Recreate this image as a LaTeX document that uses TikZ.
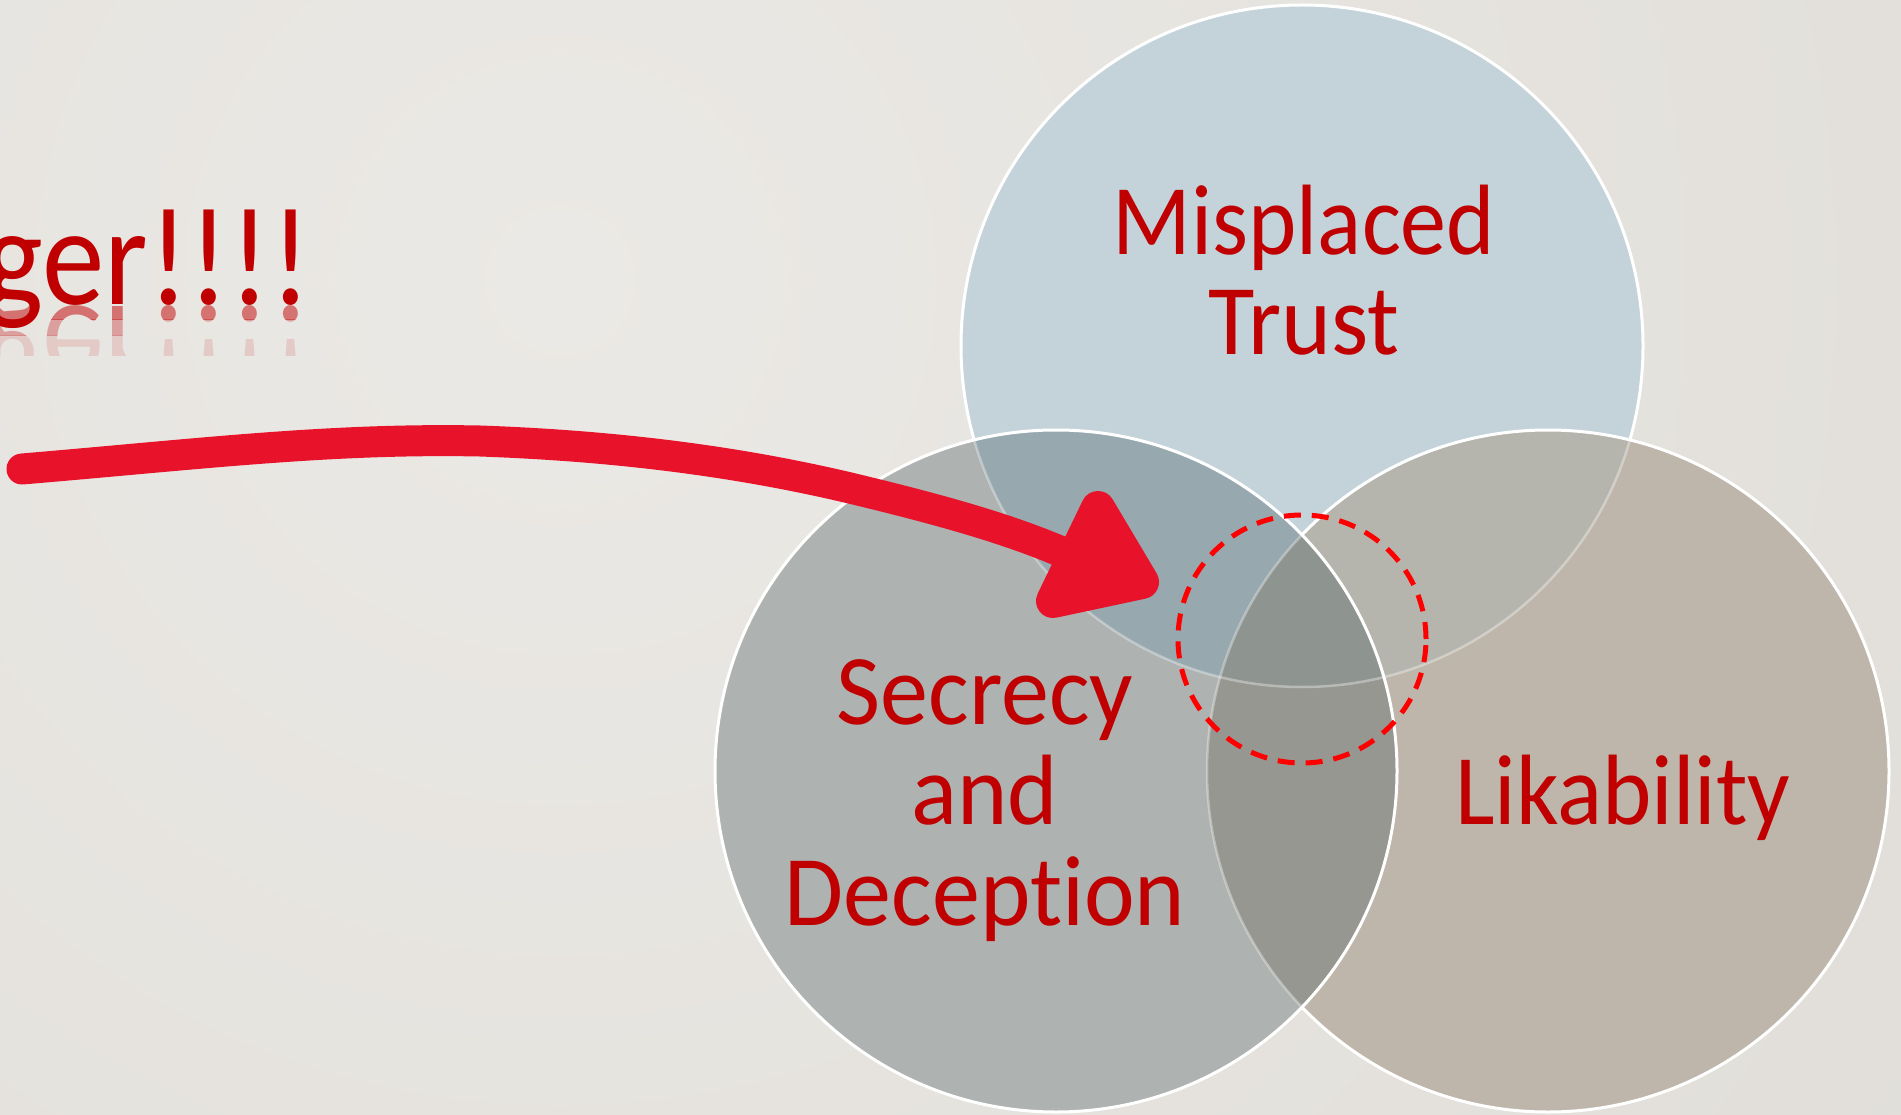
\documentclass[tikz,border=0pt]{standalone}
\usepackage{fontspec}
\usepackage{graphicx}
\setmainfont[Ligatures=NoCommon]{Carlito}
\definecolor{bgA}{HTML}{EBE9E5}
\definecolor{bgM}{HTML}{E0DDD8}
\definecolor{bgB}{HTML}{D0CCC6}
\definecolor{cTop}{HTML}{C4D3DA}
\definecolor{cLeft}{HTML}{AEB2B1}
\definecolor{cRight}{HTML}{BEB6AB}
\definecolor{cTL}{HTML}{97A8AF}
\definecolor{cTR}{HTML}{B6B5AD}
\definecolor{cLR}{HTML}{969790}
\definecolor{cAll}{HTML}{8E9490}
\definecolor{txtred}{HTML}{C00000}
\definecolor{arrred}{HTML}{E8132A}
\definecolor{dashred}{HTML}{FF0000}
\pgfdeclareradialshading{bgshade}{\pgfpoint{0bp}{0bp}}{color(0bp)=(bgA); color(25bp)=(bgM); color(40bp)=(bgB); color(50bp)=(bgB)}
\begin{document}
\begin{tikzpicture}[x=1pt,y=-1pt,
  ring/.style={draw=white, line width=3pt},
  faint/.style={draw=white, draw opacity=0.35, line width=2.5pt},
  lbl/.style={text=txtred, font=\fontsize{100}{100}\selectfont, inner sep=0pt, anchor=base},
  big/.style={text=txtred, font=\fontsize{125}{125}\selectfont, inner sep=0pt, anchor=base east},
  shaft/.style={draw=arrred, line width=31pt, line cap=round, line join=round},
  headtri/.style={draw=arrred, fill=arrred, line width=34pt, line join=round},
  dashring/.style={draw=dashred, line width=5pt, dash pattern=on 17pt off 11pt}]
\useasboundingbox (0,0) rectangle (1901,1115);
% background
\begin{scope}
  \clip (0,0) rectangle (1901,1115);
  \shade[shading=bgshade] (560,280) circle (1800pt);
\end{scope}
% title fragment and reflection
\newcommand{\dtxt}{\scalebox{1}[1.12]{ger!!!!}}
\node[big] (danger) at (311,305) {\dtxt};
\begin{scope}
  \clip (0,306) rectangle (400,320);
  \begin{scope}[yscale=-1, transform shape]
    \node[big, text opacity=0.5] (dref1) at (311,-307) {\dtxt};
  \end{scope}
\end{scope}
\begin{scope}
  \clip (0,320) rectangle (400,336);
  \begin{scope}[yscale=-1, transform shape]
    \node[big, text opacity=0.3] (dref2) at (311,-307) {\dtxt};
  \end{scope}
\end{scope}
\begin{scope}
  \clip (0,336) rectangle (400,355);
  \begin{scope}[yscale=-1, transform shape]
    \node[big, text opacity=0.12] (dref3) at (311,-307) {\dtxt};
  \end{scope}
\end{scope}
% circles
\coordinate (cT) at (1302,346);
\coordinate (cL) at (1056,771);
\coordinate (cR) at (1548,771);
\def\rr{341pt}
\fill[cTop] (cT) circle (\rr);
\draw[ring] (cT) circle (\rr);
\fill[cRight] (cR) circle (\rr);
\begin{scope}\clip (cT) circle (\rr); \fill[cTR] (cR) circle (\rr);\end{scope}
\begin{scope}\clip (cR) circle (\rr); \draw[faint] (cT) circle (\rr);\end{scope}
\draw[ring] (cR) circle (\rr);
\fill[cLeft] (cL) circle (\rr);
\begin{scope}\clip (cT) circle (\rr); \fill[cTL] (cL) circle (\rr);\end{scope}
\begin{scope}\clip (cR) circle (\rr); \fill[cLR] (cL) circle (\rr);\end{scope}
\begin{scope}\clip (cR) circle (\rr); \clip (cT) circle (\rr); \fill[cAll] (cL) circle (\rr);\end{scope}
\begin{scope}\clip (cL) circle (\rr); \draw[faint] (cT) circle (\rr); \draw[faint] (cR) circle (\rr);\end{scope}
\draw[ring] (cL) circle (\rr);
% labels
\node[lbl] (mis) at (1304,255) {\scalebox{0.92}[1]{Misplaced}};
\node[lbl] (tru) at (1304,355) {\scalebox{0.95}[1]{Trust}};
\node[lbl] (sec) at (985,724) {\scalebox{0.96}[1]{Secrecy}};
\node[lbl] (and) at (985,824) {\scalebox{0.96}[1]{and}};
\node[lbl] (dec) at (985,925) {\scalebox{0.96}[1]{Deception}};
\node[lbl] (lik) at (1623,824) {\scalebox{0.94}[1]{Likability}};
% dashed focus ring
\coordinate (focus) at (1302,639);
\draw[dashring] (focus) circle (124pt);
% hand-drawn arrow
\coordinate (aStart) at (22,469);
\coordinate (aEnd) at (1062,552);
\draw[shaft] (aStart) .. controls (200,454) and (330,438) .. (480,441)
  .. controls (620,446) and (740,462) .. (850,488)
  .. controls (950,512) and (1010,530) .. (aEnd);
\coordinate (hT) at (1098,508);
\coordinate (hR) at (1142,582);
\coordinate (hL) at (1053,601);
\draw[headtri] (hT) -- (hR) -- (hL) -- cycle;
\end{tikzpicture}
\end{document}
